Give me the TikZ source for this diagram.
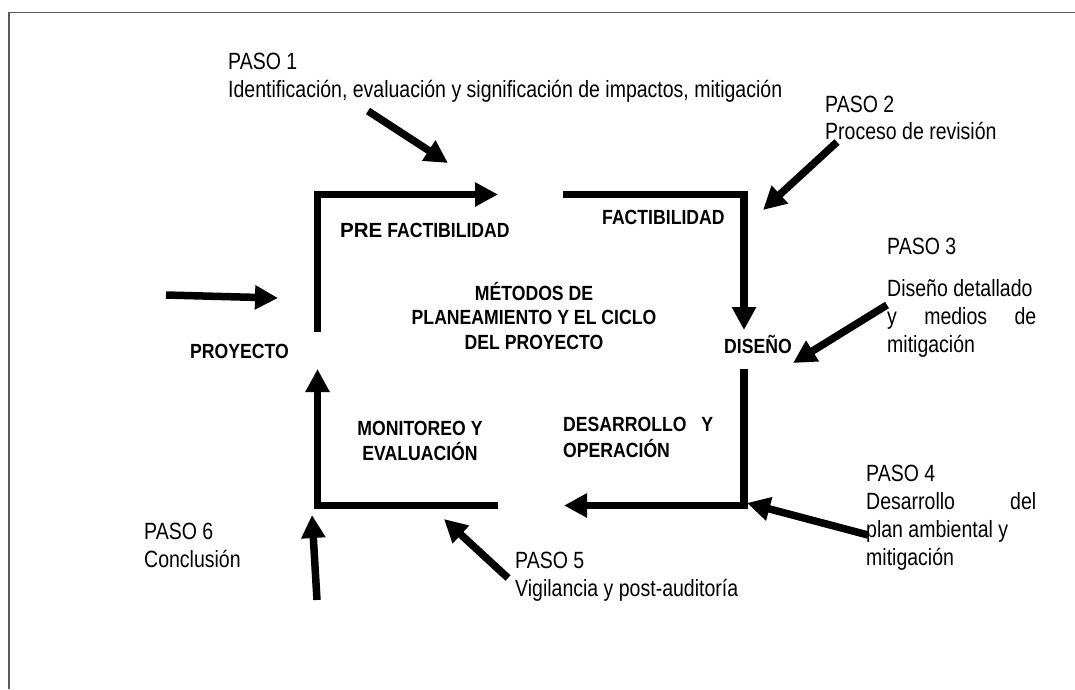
\documentclass[tikz,border=0pt]{standalone}
\usepackage{fontspec}
\setmainfont{Liberation Sans}[FakeStretch=0.83]
\newfontfamily\boldnarrow{Liberation Sans}[FakeStretch=0.86]
\newfontfamily\widefont{Liberation Sans}
\usetikzlibrary{arrows.meta}
\begin{document}
\begin{tikzpicture}[x=1pt,y=-1pt,
  flow/.style={line width=7.5pt, -{Triangle[length=23pt,width=23pt]}},
  steptext/.style={anchor=base west, inner sep=0pt, font=\fontsize{23.5}{28}\selectfont},
  phase/.style={inner sep=0pt, font=\boldnarrow\fontsize{20.5}{24}\selectfont\bfseries},
  phasel/.style={phase, anchor=base west},
  phasec/.style={phase, anchor=base},
]
\useasboundingbox (0,0) rectangle (1075,689);
\fill[white] (0,0) rectangle (1075,689);
% frame
\coordinate (frTR) at (1075,12.5);
\coordinate (frTL) at (9,12.5);
\coordinate (frBL) at (9,689);
\draw[black!65, line width=1.3pt] (frTR) -- (frTL) -- (frBL);

% main cycle corners
\coordinate (a0) at (317.5,332);
\coordinate (a1) at (317.5,194.5);
\coordinate (a2) at (498,194.5);
\coordinate (b0) at (563,194.5);
\coordinate (b1) at (744,194.5);
\coordinate (b2) at (744,330);
\coordinate (c0) at (744,369);
\coordinate (c1) at (744,505.5);
\coordinate (c2) at (564,505.5);
\coordinate (d0) at (497.5,505.5);
\coordinate (d1) at (317.5,505.5);
\coordinate (d2) at (317.5,369);
\draw[flow] (a0) -- (a1) -- (a2);
\draw[flow] (b0) -- (b1) -- (b2);
\draw[flow] (c0) -- (c1) -- (c2);
\draw[flow] (d0) -- (d1) -- (d2);

% external arrows
\coordinate (p0s) at (166,295);   \coordinate (p0e) at (278,298);
\coordinate (p1s) at (368,111);   \coordinate (p1e) at (448,163);
\coordinate (p2s) at (837,142);   \coordinate (p2e) at (763,210);
\coordinate (p3s) at (887,305);   \coordinate (p3e) at (793,363);
\coordinate (p4s) at (868,535);   \coordinate (p4e) at (747,503);
\coordinate (p5s) at (508,578);   \coordinate (p5e) at (444,519);
\coordinate (p6s) at (317,600);   \coordinate (p6e) at (312,515);
\foreach \i in {0,...,6}{\draw[flow] (p\i s) -- (p\i e);}

% step texts
\node[steptext] (s1a) at (228,69) {PASO 1};
\node[steptext] (s1b) at (228,97) {Identificación, evaluación y significación de impactos, mitigación};
\node[steptext] (s2a) at (825,112) {PASO 2};
\node[steptext] (s2b) at (825,139) {Proceso de revisión};
\node[steptext] (s3a) at (887,254) {PASO 3};
\node[steptext] (s3b) at (887,296) {Diseño detallado};
\node[steptext] (s3c) at (887,324) {\makebox[149pt][s]{y medios de}};
\node[steptext] (s3d) at (887,352) {mitigación};
\node[steptext] (s4a) at (866,481) {PASO 4};
\node[steptext] (s4b) at (866,509) {\makebox[170pt][s]{Desarrollo del}};
\node[steptext] (s4c) at (866,537) {plan ambiental y};
\node[steptext] (s4d) at (866,565) {mitigación};
\node[steptext] (s5a) at (515,568) {PASO 5};
\node[steptext] (s5b) at (515,596) {Vigilancia y post-auditoría};
\node[steptext] (s6a) at (144,539) {PASO 6};
\node[steptext] (s6b) at (144,567) {Conclusión};

% phase labels
\node[phasel] (pre) at (340,237) {{\widefont\bfseries PRE} FACTIBILIDAD};
\node[phasel] (fact) at (602,224) {FACTIBILIDAD};
\node[phasec] (m1) at (534,300) {MÉTODOS DE};
\node[phasec] (m2) at (534,324.5) {PLANEAMIENTO Y EL CICLO};
\node[phasec] (m3) at (534,349) {DEL PROYECTO};
\node[phasel] (dis) at (724,353) {DISEÑO};
\node[phasel] (proy) at (190,358) {PROYECTO};
\node[phasec] (mon1) at (420,435) {MONITOREO Y};
\node[phasec] (mon2) at (420,460) {EVALUACIÓN};
\node[phasel] (des1) at (563,431) {\makebox[150pt][s]{DESARROLLO Y}};
\node[phasel] (des2) at (563,457) {OPERACIÓN};
\end{tikzpicture}
\end{document}
